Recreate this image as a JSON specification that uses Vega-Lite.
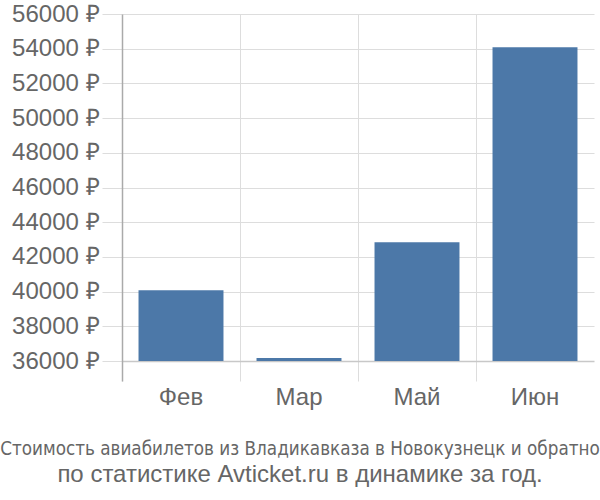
{
  "$schema": "https://vega.github.io/schema/vega-lite/v6.json",
  "autosize": "none",
  "width": 472,
  "height": 367,
  "padding": {"left": 122, "top": 14, "right": 6, "bottom": 119},
  "background": "white",
  "data": {"values": [
    {"month": "Фев", "price": 40080},
    {"month": "Мар", "price": 36180},
    {"month": "Май", "price": 42840},
    {"month": "Июн", "price": 54080}
  ]},
  "title": {
    "text": "Стоимость авиабилетов из Владикавказа в Новокузнецк и обратно",
    "subtitle": "по статистике Avticket.ru в динамике за год.",
    "orient": "bottom",
    "anchor": "middle",
    "frame": "group",
    "dx": -58,
    "offset": 31,
    "font": "DejaVu Sans Condensed, sans-serif",
    "fontSize": 18.7,
    "fontWeight": "normal",
    "color": "#666666",
    "subtitleFont": "Liberation Sans",
    "subtitleFontSize": 24,
    "subtitleColor": "#666666",
    "subtitlePadding": 4
  },
  "config": {
    "view": {"stroke": null},
    "axis": {"labelFont": "Liberation Sans", "labelFontSize": 24, "labelColor": "#666666"}
  },
  "layer": [
    {
      "mark": {"type": "bar", "color": "#4c78a8", "width": {"band": 0.72}},
      "encoding": {
        "x": {
          "field": "month", "type": "nominal", "sort": null,
          "scale": {"paddingInner": 0, "paddingOuter": 0},
          "axis": {
            "title": null, "labelAngle": 0, "domain": false, "ticks": false,
            "grid": true, "gridColor": "#dddddd", "bandPosition": 0,
            "labelPadding": 4
          }
        },
        "y": {
          "field": "price", "type": "quantitative",
          "scale": {"domain": [34850, 56000], "nice": false, "zero": false},
          "axis": {
            "title": null,
            "values": [36000, 38000, 40000, 42000, 44000, 46000, 48000, 50000, 52000, 54000, 56000],
            "labelExpr": "datum.value + ' ₽'",
            "labelOverlap": false,
            "domainColor": "#aaaaaa", "domainWidth": 1.5,
            "tickColor": "#dddddd", "tickSize": 20, "labelPadding": 3,
            "gridColor": {"condition": {"test": "datum.value === 36000", "value": "#c8c8c8"}, "value": "#dddddd"},
            "gridWidth": {"condition": {"test": "datum.value === 36000", "value": 1.5}, "value": 1}
          }
        },
        "y2": {"datum": 36000}
      }
    },
    {
      "mark": {"type": "rule", "color": "#dddddd"},
      "encoding": {}
    }
  ]
}
